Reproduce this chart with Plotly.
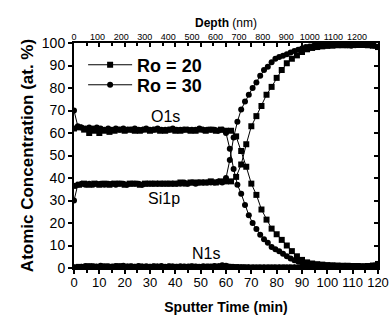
import plotly.graph_objects as go

# ---------------- data ----------------
# Ro = 20 (squares), sampled every 2 min
t20 = [0, 2, 4, 6, 8, 10, 12, 14, 16, 18,
       20, 22, 24, 26, 28, 30, 32, 34, 36, 38,
       40, 42, 44, 46, 48, 50, 52, 54, 56, 58,
       60, 62, 64, 66, 68, 70, 72, 74, 76, 78,
       80, 82, 84, 86, 88, 90, 92, 94, 96, 98,
       100, 102, 104, 106, 108, 110, 112, 114, 116, 118,
       120]
o1s_20 = [62, 62.5, 61.5, 60, 61, 60, 61, 60.5, 61, 61.5,
          61, 61.5, 61, 61, 61.5, 61, 61.5, 61, 61, 61.5,
          61, 61, 61.5, 61, 61, 61.5, 61, 61.5, 61, 61.5,
          61, 61, 58.5, 52, 45, 37.5, 32.5, 26, 21.5, 17.5,
          15, 12.5, 10, 7.5, 5.2, 3.6, 2.5, 2, 1.7, 1.5,
          1.3, 1.2, 1.1, 1, 1, 0.9, 0.9, 0.8, 0.9, 1.1,
          1.8]
si1p_20 = [36.5, 37, 37.5, 37, 37.5, 37, 37.5, 37, 37.5, 37.5,
           37, 37.5, 37.5, 37, 37.5, 37.5, 37.5, 37.5, 37.5, 37.5,
           37.5, 38, 37.5, 38, 38, 38, 38, 38.5, 38, 38.5,
           38.5, 38.5, 40.5, 46, 55, 63, 67.5, 72, 77, 80.5,
           84.5, 88, 91, 93, 94.5, 96, 97.2, 97.8, 98.2, 98.5,
           98.7, 98.8, 99, 99, 99, 99.1, 99.1, 99.1, 99, 98.8,
           98.2]
n1s_20 = [0.3, 0.5, 0.4, 0.8, 0.6, 0.5, 0.7, 0.5, 0.6, 0.8,
          0.5, 0.6, 0.5, 0.6, 0.4, 0.5, 0.6, 0.5, 0.4, 0.6,
          0.5, 0.4, 0.5, 0.6, 0.5, 0.4, 0.5, 0.6, 0.5, 0.7,
          0.6, 0.5, 0.4, 0.3, 0.3, 0.2, 0.2, 0.2, 0.2, 0.2,
          0.2, 0.2, 0.2, 0.2, 0.2, 0.2, 0.2, 0.2, 0.2, 0.2,
          0.2, 0.2, 0.2, 0.2, 0.2, 0.2, 0.2, 0.2, 0.2, 0.2,
          0.2]

# Ro = 30 (circles), sampled every 1.5 min
t30 = [0, 1.5, 3, 4.5, 6, 7.5, 9, 10.5, 12, 13.5,
       15, 16.5, 18, 19.5, 21, 22.5, 24, 25.5, 27, 28.5,
       30, 31.5, 33, 34.5, 36, 37.5, 39, 40.5, 42, 43.5,
       45, 46.5, 48, 49.5, 51, 52.5, 54, 55.5, 57, 58.5,
       60, 61.5, 63, 64.5, 66, 67.5, 69, 70.5, 72, 73.5,
       75, 76.5, 78, 79.5, 81, 82.5, 84, 85.5, 87, 88.5,
       90, 91.5, 93, 94.5, 96, 97.5, 99, 100.5, 102, 103.5,
       105, 106.5, 108, 109.5, 111, 112.5, 114, 115.5, 117, 118.5,
       120]
o1s_30 = [70, 63, 62.5, 62, 62.5, 62, 62.5, 62, 61.5, 62,
          61.5, 62, 61.5, 62, 61.5, 61.5, 62, 61.5, 61.5, 62,
          61.5, 61.5, 62, 61.5, 61.5, 61.5, 62, 61.5, 61.5, 61.5,
          61.5, 61.5, 61.5, 62, 61.5, 61.5, 61.5, 61.5, 61, 61.5,
          60, 53, 44, 37, 33, 28, 23.5, 20, 17.3, 14.8,
          12.8, 11.2, 9.3, 8.3, 7.4, 6.3, 5.2, 4.2, 3.4, 2.9,
          2.4, 2, 1.7, 1.5, 1.3, 1.2, 1.1, 1, 1, 0.9,
          0.9, 0.8, 0.8, 0.8, 0.7, 0.7, 0.7, 0.8, 0.9, 1.1,
          1.5]
si1p_30 = [30, 37, 37.5, 37, 37.5, 37, 37.5, 37.5, 37, 37.5,
           37.5, 37, 37.5, 37.5, 37, 37.5, 37.5, 37.5, 37, 37.5,
           37.5, 37.5, 37.5, 37.5, 37.5, 37.5, 37.5, 37.5, 37.5, 38,
           37.5, 38, 37.5, 38, 38, 38, 38, 38, 38.5, 38,
           40, 48, 58, 65, 70.5, 74, 77, 80, 82.5, 85.5,
           88, 89.5, 91.5, 93, 93.8, 94.3, 95, 95.8, 96.5, 97,
           97.6, 98.2, 98.5, 98.7, 98.8, 99, 99, 99.1, 99.1, 99.2,
           99.2, 99.2, 99, 98.8, 99, 99.1, 99.2, 99.1, 99, 98.8,
           98.3]
n1s_30 = [0.2, 0.5, 0.6, 0.9, 0.7, 0.8, 0.6, 1.0, 0.7, 0.8,
          0.6, 0.9, 0.7, 1.0, 0.7, 0.8, 0.6, 0.9, 0.7, 0.8,
          0.6, 0.8, 0.7, 0.9, 0.6, 0.8, 0.7, 0.6, 0.8, 0.7,
          0.6, 0.8, 0.7, 0.6, 0.8, 0.7, 0.6, 0.9, 0.8, 1.2,
          1.0, 0.6, 0.4, 0.3, 0.3, 0.2, 0.2, 0.2, 0.2, 0.2,
          0.2, 0.2, 0.2, 0.2, 0.2, 0.2, 0.2, 0.2, 0.2, 0.2,
          0.2, 0.2, 0.2, 0.2, 0.2, 0.2, 0.2, 0.2, 0.2, 0.2,
          0.2, 0.2, 0.2, 0.2, 0.2, 0.2, 0.2, 0.2, 0.2, 0.2,
          0.2]

x_ticks = [0, 10, 20, 30, 40, 50, 60, 70, 80, 90, 100, 110, 120]
x_minor = [5, 15, 25, 35, 45, 55, 65, 75, 85, 95, 105, 115]
y_ticks = [0, 10, 20, 30, 40, 50, 60, 70, 80, 90, 100]
depth_ticks = [0, 100, 200, 300, 400, 500, 600, 700, 800, 900, 1000, 1100, 1200]
depth_max = 1289  # depth at 120 min

labels = [("O1s", 36, 67.5), ("Si1p", 35.5, 31), ("N1s", 52, 6.5)]

# ---------------- figure ----------------
FONT = "Liberation Sans, Arial, sans-serif"
fig = go.Figure()

series = [("Ro = 20", t20, [o1s_20, si1p_20, n1s_20], "square", "legend"),
          ("Ro = 30", t30, [o1s_30, si1p_30, n1s_30], "circle", "legend2")]
for name, t, ys_list, sym, leg in series:
    for k, ys in enumerate(ys_list):
        fig.add_trace(go.Scatter(
            x=t, y=ys, mode="lines+markers", name="<b>" + name + "</b>",
            legendgroup=name, showlegend=(k == 0), legend=leg,
            line=dict(color="black", width=1),
            marker=dict(symbol=sym, size=6, color="black")))

# invisible helpers so the overlay axes are drawn
fig.add_trace(go.Scatter(x=[0], y=[0], xaxis="x2", yaxis="y2", mode="markers",
                         marker=dict(opacity=0), showlegend=False, hoverinfo="skip"))
fig.add_trace(go.Scatter(x=[0], y=[0], xaxis="x3", yaxis="y", mode="markers",
                         marker=dict(opacity=0), showlegend=False, hoverinfo="skip"))

for text, x, y in labels:
    fig.add_annotation(x=x, y=y, text=text, showarrow=False,
                       font=dict(family=FONT, size=16, color="black"))

axis_common = dict(showgrid=False, zeroline=False, showline=True,
                   linecolor="black", linewidth=2, automargin=False)

leg_common = dict(xanchor="left", yanchor="middle", bgcolor="rgba(0,0,0,0)",
                  font=dict(size=18, family=FONT, color="black"), itemwidth=44)

fig.update_layout(
    width=390, height=322,
    margin=dict(l=74, r=12, t=43, b=54, autoexpand=False),
    paper_bgcolor="white", plot_bgcolor="white",
    font=dict(family=FONT, color="black"),
    xaxis=dict(range=[0, 120], tickvals=x_ticks, ticks="outside", ticklen=4,
               tickwidth=1.5, tickcolor="black", ticklabelstandoff=-3,
               minor=dict(tickvals=x_minor, ticks="outside", ticklen=2.5,
                          tickwidth=1.5, tickcolor="black"),
               tickfont=dict(size=13, family=FONT),
               title=dict(text="<b>Sputter Time (min)</b>", font=dict(size=14, family=FONT),
                          standoff=14),
               **axis_common),
    xaxis3=dict(range=[0, 120], overlaying="x", side="top", tickvals=x_ticks,
                ticks="inside", ticklen=4, tickwidth=1.5, tickcolor="black",
                minor=dict(tickvals=x_minor, ticks="inside", ticklen=2.5,
                           tickwidth=1.5, tickcolor="black"),
                showticklabels=False, **axis_common),
    xaxis2=dict(range=[0, depth_max], overlaying="x", side="top", tickvals=depth_ticks,
                ticks="", showline=False, showgrid=False, zeroline=False, automargin=False,
                tickfont=dict(size=9, family=FONT),
                title=dict(text="<b>Depth</b> (nm)", font=dict(size=12, family=FONT),
                           standoff=2)),
    yaxis=dict(range=[0, 100], tickvals=y_ticks, ticks="outside", ticklen=4,
               tickwidth=1.5, tickcolor="black",
               tickfont=dict(size=14, family=FONT),
               title=dict(text="<b>Atomic Concentration (at. %)</b>",
                          font=dict(size=17, family=FONT), standoff=4),
               **axis_common),
    yaxis2=dict(range=[0, 100], overlaying="y", side="right", tickvals=y_ticks,
                ticks="inside", ticklen=4, tickwidth=1.5, tickcolor="black",
                showticklabels=False, **axis_common),
    legend=dict(x=0.03, y=0.902, **leg_common),
    legend2=dict(x=0.03, y=0.813, **leg_common),
    showlegend=True,
)

fig.write_html("out.html")
